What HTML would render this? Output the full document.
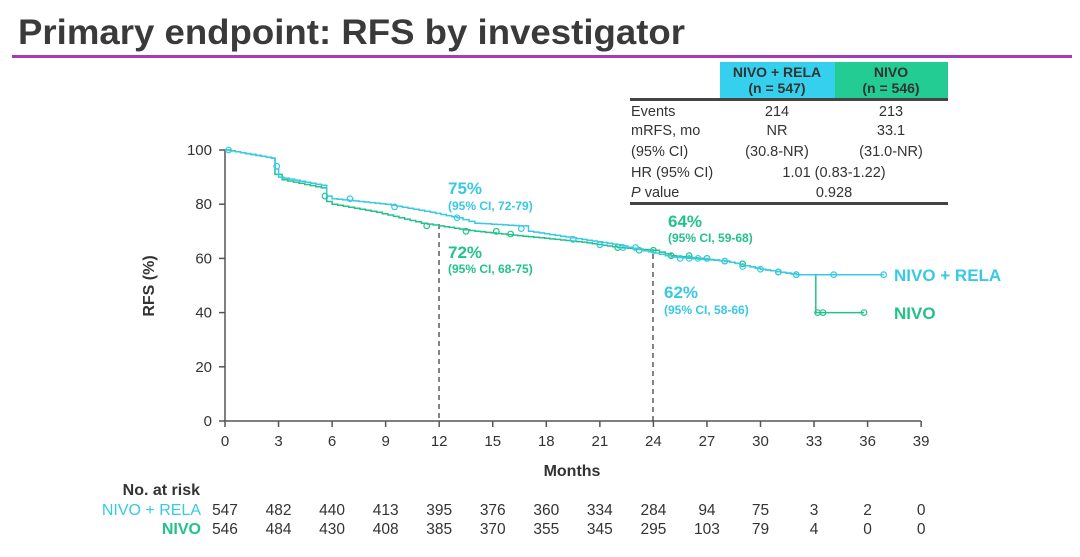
<!DOCTYPE html>
<html><head><meta charset="utf-8"><style>
body{margin:0;width:1080px;height:552px;background:#fff;overflow:hidden;font-family:"Liberation Sans","DejaVu Sans",sans-serif;}
</style></head><body>
<svg id="s" width="1080" height="552" xmlns="http://www.w3.org/2000/svg" font-family="Liberation Sans, DejaVu Sans, sans-serif">
<text x="18" y="44" font-size="35" font-weight="bold" fill="#3a3a3a" textLength="667" lengthAdjust="spacingAndGlyphs">Primary endpoint: RFS by investigator</text>
<rect x="12" y="55" width="1060" height="3" fill="#a63bb5"/>
<rect x="720" y="62" width="115" height="36" fill="#35d0ee"/>
<rect x="835" y="62" width="113" height="36" fill="#22cc92"/>
<g font-size="14" font-weight="bold" fill="#333" text-anchor="middle">
<text x="777" y="77">NIVO + RELA</text><text x="777" y="93">(n = 547)</text>
<text x="891" y="77">NIVO</text><text x="891" y="93">(n = 546)</text></g>
<rect x="630" y="98" width="318" height="3" fill="#444"/>
<rect x="630" y="202" width="318" height="3" fill="#444"/>
<g font-size="14.5" fill="#333">
<text x="631" y="116">Events</text><text x="631" y="135">mRFS, mo</text><text x="631" y="156">(95% CI)</text><text x="631" y="177">HR (95% CI)</text><text x="631" y="197"><tspan font-style="italic">P</tspan> value</text>
<g text-anchor="middle"><text x="777" y="116">214</text><text x="891" y="116">213</text><text x="777" y="135">NR</text><text x="891" y="135">33.1</text><text x="777" y="156">(30.8-NR)</text><text x="891" y="156">(31.0-NR)</text><text x="834" y="177">1.01 (0.83-1.22)</text><text x="834" y="197">0.928</text></g></g>
<g stroke="#555" stroke-width="1.5" fill="none"><path d="M225 150 V421 H921"/></g>
<g id="ticks" stroke="#555" stroke-width="1.5"></g>
<g font-size="15" fill="#333" text-anchor="end" id="yl"></g>
<g font-size="15" fill="#333" text-anchor="middle" id="xl"></g>
<text x="572" y="476" font-size="16" font-weight="bold" fill="#333" text-anchor="middle">Months</text>
<text transform="translate(154,286) rotate(-90)" font-size="16" font-weight="bold" fill="#333" text-anchor="middle">RFS (%)</text>
<path d="M439 224V421M653 254V421" stroke="#333" stroke-dasharray="5,4" stroke-width="1.2"/>
<g id="curves"></g>
<g font-weight="bold">
<text x="448" y="194" font-size="17" fill="#38c9e4">75%</text><text x="448" y="210" font-size="12" fill="#38c9e4">(95% CI, 72-79)</text>
<text x="448" y="258" font-size="17" fill="#22c28a">72%</text><text x="448" y="273" font-size="12" fill="#22c28a">(95% CI, 68-75)</text>
<text x="668" y="227" font-size="17" fill="#22c28a">64%</text><text x="668" y="242" font-size="12" fill="#22c28a">(95% CI, 59-68)</text>
<text x="664" y="298" font-size="17" fill="#38c9e4">62%</text><text x="664" y="314" font-size="12" fill="#38c9e4">(95% CI, 58-66)</text>
<text x="894" y="281" font-size="17" fill="#38c9e4">NIVO + RELA</text>
<text x="894" y="319" font-size="17" fill="#22c28a">NIVO</text>
</g>
<text x="200" y="495" font-size="16" font-weight="bold" fill="#333" text-anchor="end">No. at risk</text>
<text x="201" y="515" font-size="16" fill="#38c9e4" text-anchor="end">NIVO + RELA</text>
<text x="201" y="534" font-size="16" font-weight="bold" fill="#22c28a" text-anchor="end">NIVO</text>
<g id="risk" font-size="15.5" fill="#333" text-anchor="middle"></g>
</svg>
<script>
var NS="http://www.w3.org/2000/svg";
function X(m){return 225+m*17.85;}function Y(v){return 421-2.71*v;}
function el(p,t,a,txt){var e=document.createElementNS(NS,t);for(var k in a)e.setAttribute(k,a[k]);if(txt!=null)e.textContent=txt;document.getElementById(p).appendChild(e);return e;}
for(var v=0;v<=100;v+=20){el("ticks","line",{x1:219,x2:225,y1:Y(v),y2:Y(v)});el("yl","text",{x:212,y:Y(v)+5},v);}
for(var m=0;m<=39;m+=3){el("ticks","line",{x1:X(m),x2:X(m),y1:421,y2:427});el("xl","text",{x:X(m),y:446},m);}
var a=[547,482,440,413,395,376,360,334,284,94,75,3,2,0],b=[546,484,430,408,385,370,355,345,295,103,79,4,0,0];
for(var i=0;i<14;i++){el("risk","text",{x:X(i*3),y:515},a[i]);el("risk","text",{x:X(i*3),y:534},b[i]);}
function curve(pts,col,cens){var d="M"+X(pts[0][0])+" "+Y(pts[0][1]);
for(var i=1;i<pts.length;i++){var p=pts[i-1],q=pts[i];var dm=q[0]-p[0];
 if(dm>0.5 && q[1]!=p[1] && !q[2]){var n=Math.max(2,Math.round(dm/0.3));for(var k=1;k<=n;k++){var mm=p[0]+dm*k/n,vv=p[1]+(q[1]-p[1])*k/n;d+="H"+X(mm).toFixed(1)+"V"+Y(vv).toFixed(1);}}
 else d+="H"+X(q[0]).toFixed(1)+"V"+Y(q[1]).toFixed(1);}
el("curves","path",{d:d,fill:"none",stroke:col,"stroke-width":1.5});
cens.forEach(function(c){el("curves","circle",{cx:X(c[0]),cy:Y(c[1]),r:2.8,fill:"none",stroke:col,"stroke-width":1.2});});}
var G=[[0,100],[2.6,97],[2.8,91],[3.2,89],[5.4,86],[5.7,81],[6,80],[8.5,77],[11,73],[12,72],[14,70],[17,68],[20,66],[22,64],[24,63],[25,61],[28,59],[30,56],[32,54],[33.1,54,1],[33.1,40,1],[35.8,40,1]];
var Cc=[[0,100],[2.6,97],[2.8,93],[3.0,90],[5.4,87],[5.7,83],[6,82],[9,80],[11.5,77],[13,75],[14,73],[16.5,72],[17,70],[20,67],[22,65],[24,62],[25,60.5],[28,59],[30,56],[32,54],[33,54],[36.9,54,1]];
curve(G,"#22c28a",[[5.6,83],[11.3,72],[13.5,70],[15.2,70],[16,69],[22,64],[23.2,63],[24,63],[25,61],[26,61],[27,60],[28,59],[29,58],[31,55],[32,54],[33.2,40],[33.5,40],[35.8,40]]);
curve(Cc,"#38c9e4",[[0.2,100],[2.9,94],[7,82],[9.5,79],[13,75],[16.6,71],[19.5,67],[21,65],[22.3,64],[23,64],[25.5,60],[26,60],[26.5,60],[27,60],[28,59],[29,57],[30,56],[31,55],[32,54],[34.1,54],[36.9,54]]);
</script>
</body></html>
